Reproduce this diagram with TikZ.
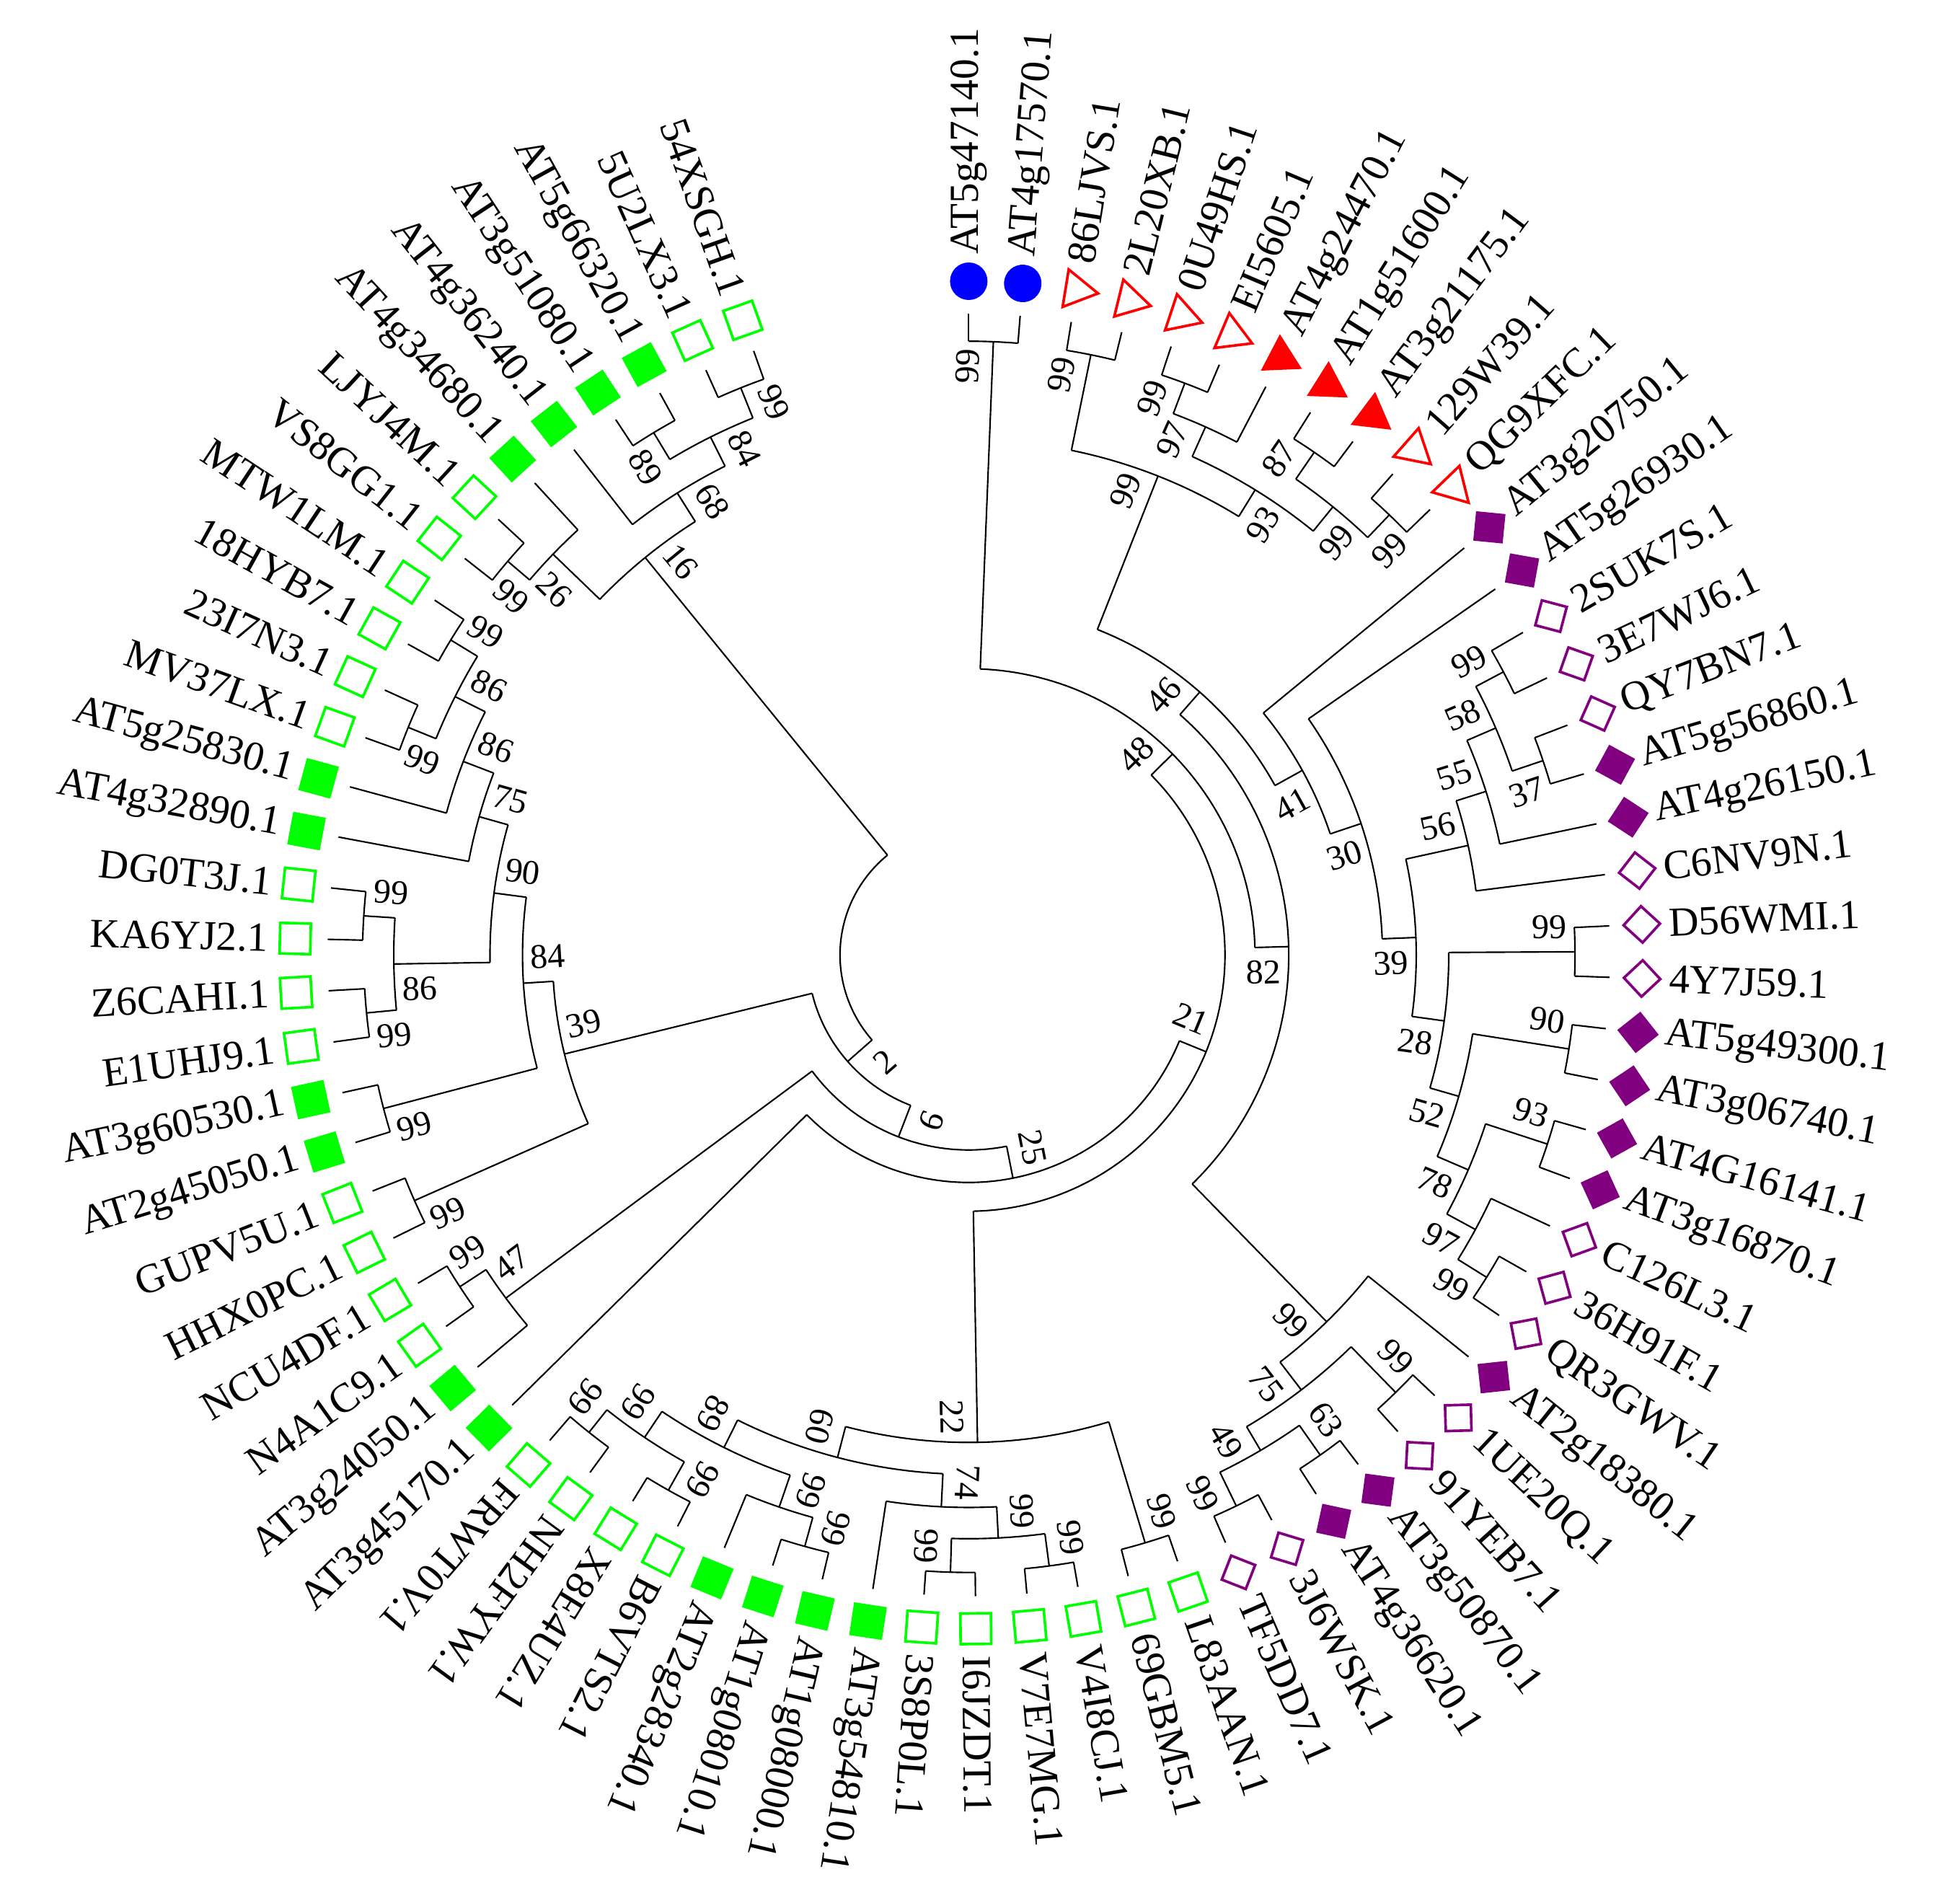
\documentclass[tikz,border=0pt]{standalone}
\usepackage{fontspec}
\setmainfont{Liberation Serif}
\usetikzlibrary{shapes.geometric}

\definecolor{mgreen}{RGB}{0,255,0}
\definecolor{mpurple}{RGB}{128,0,128}
\definecolor{mred}{RGB}{255,0,0}
\definecolor{mblue}{RGB}{0,0,255}

\tikzset{
  branch/.style={line width=0.35pt, black},
  bslabel/.style={font=\fontsize{7.9}{8}\selectfont, inner sep=0pt},
  tiplabel/.style={font=\fontsize{9.4}{10}\selectfont, inner sep=0pt},
  bcirc/.style={circle, fill=mblue, minimum size=3.0mm, inner sep=0pt},
  osq/.style={rectangle, draw=mgreen, line width=0.6pt, minimum size=2.45mm, inner sep=0pt},
  fsq/.style={rectangle, fill=mgreen, minimum size=2.65mm, inner sep=0pt},
  odia/.style={diamond, draw=mpurple, line width=0.6pt, minimum size=3.0mm, inner sep=0pt},
  fdia/.style={diamond, fill=mpurple, minimum size=3.4mm, inner sep=0pt},
  otri/.style={regular polygon, regular polygon sides=3, shape border rotate=180,
    draw=mred, line width=0.6pt, minimum size=3.5mm, inner sep=0pt},
  ftri/.style={regular polygon, regular polygon sides=3, shape border rotate=180,
    fill=mred, minimum size=3.8mm, inner sep=0pt}
}

% leaf: index, name, marker
\newcommand{\tip}[3]{%
  \pgfmathsetmacro\angT{90-4.6*#1}%
  \expandafter\xdef\csname A@L#1\endcsname{\angT}%
  \expandafter\xdef\csname R@L#1\endcsname{5.13}%
  \expandafter\xdef\csname B@L#1\endcsname{}%
  \coordinate (L#1) at (\angT:5.13);
  \node[#3, rotate=\angT] (m#1) at (\angT:5.39) {};
  \ifnum#1<49
    \node[tiplabel, rotate=\angT, anchor=west] (t#1) at (\angT:5.60) {#2};
  \else
    \node[tiplabel, rotate=\angT+180, anchor=east] (t#1) at (\angT:5.60) {#2};
  \fi
}

% support value of a child, put on the side away from its sibling
\newcommand{\support}[3]{%
  \edef\bsv{\csname B@#1\endcsname}%
  \ifx\bsv\empty\else
    \edef\radC{\csname R@#1\endcsname}%
    \pgfmathsetmacro\sideC{#2>#3 ? 1 : -1}%
    \pgfmathsetmacro\angL{#2+\sideC*11.46/(\radC-0.2)}%
    \pgfmathsetmacro\radL{\radC-0.2}%
    \pgfmathsetmacro\rotL{#2>-133 ? #2 : #2+180}%
    \node[bslabel, rotate=\rotL] (b#1) at (\angL:\radL) {\bsv};
  \fi
}

% clade: name, radius, child a, child b, support
\newcommand{\clade}[5]{%
  \edef\angA{\csname A@#3\endcsname}\edef\angB{\csname A@#4\endcsname}%
  \pgfmathsetmacro\angM{(\angA+\angB)/2}%
  \expandafter\xdef\csname A@#1\endcsname{\angM}%
  \expandafter\xdef\csname R@#1\endcsname{#2}%
  \expandafter\xdef\csname B@#1\endcsname{#5}%
  \coordinate (#1) at (\angM:#2);
  \draw[branch] (\angA:#2) arc[start angle=\angA, end angle=\angB, radius=#2 cm];
  \draw[branch] (\angA:#2) -- (#3);
  \draw[branch] (\angB:#2) -- (#4);
  \support{#3}{\angA}{\angB}
  \support{#4}{\angB}{\angA}
}

\begin{document}
\begin{tikzpicture}
\useasboundingbox (-7.75,-7.58) rectangle (7.93,7.64);

% leaves
\tip{0}{AT5g47140.1}{bcirc}
\tip{1}{AT4g17570.1}{bcirc}
\tip{2}{86LJVS.1}{otri}
\tip{3}{2L20XB.1}{otri}
\tip{4}{0U49HS.1}{otri}
\tip{5}{EI5605.1}{otri}
\tip{6}{AT4g24470.1}{ftri}
\tip{7}{AT1g51600.1}{ftri}
\tip{8}{AT3g21175.1}{ftri}
\tip{9}{129W39.1}{otri}
\tip{10}{QG9XFC.1}{otri}
\tip{11}{AT3g20750.1}{fdia}
\tip{12}{AT5g26930.1}{fdia}
\tip{13}{2SUK7S.1}{odia}
\tip{14}{3E7WJ6.1}{odia}
\tip{15}{QY7BN7.1}{odia}
\tip{16}{AT5g56860.1}{fdia}
\tip{17}{AT4g26150.1}{fdia}
\tip{18}{C6NV9N.1}{odia}
\tip{19}{D56WMI.1}{odia}
\tip{20}{4Y7J59.1}{odia}
\tip{21}{AT5g49300.1}{fdia}
\tip{22}{AT3g06740.1}{fdia}
\tip{23}{AT4G16141.1}{fdia}
\tip{24}{AT3g16870.1}{fdia}
\tip{25}{C126L3.1}{odia}
\tip{26}{36H91F.1}{odia}
\tip{27}{QR3GWV.1}{odia}
\tip{28}{AT2g18380.1}{fdia}
\tip{29}{1UE20Q.1}{odia}
\tip{30}{91YEB7.1}{odia}
\tip{31}{AT3g50870.1}{fdia}
\tip{32}{AT4g36620.1}{fdia}
\tip{33}{3J6WSK.1}{odia}
\tip{34}{TF5DD7.1}{odia}
\tip{35}{L83AAN.1}{osq}
\tip{36}{69GBM5.1}{osq}
\tip{37}{V4I8CJ.1}{osq}
\tip{38}{V7E7MG.1}{osq}
\tip{39}{I6JZDT.1}{osq}
\tip{40}{3S8P0L.1}{osq}
\tip{41}{AT3g54810.1}{fsq}
\tip{42}{AT1g08000.1}{fsq}
\tip{43}{AT1g08010.1}{fsq}
\tip{44}{AT2g28340.1}{fsq}
\tip{45}{B6VTS2.1}{osq}
\tip{46}{X8E4UZ.1}{osq}
\tip{47}{NH2FYW.1}{osq}
\tip{48}{FRWT0V.1}{osq}
\tip{49}{AT3g45170.1}{fsq}
\tip{50}{AT3g24050.1}{fsq}
\tip{51}{N4A1C9.1}{osq}
\tip{52}{NCU4DF.1}{osq}
\tip{53}{HHX0PC.1}{osq}
\tip{54}{GUPV5U.1}{osq}
\tip{55}{AT2g45050.1}{fsq}
\tip{56}{AT3g60530.1}{fsq}
\tip{57}{E1UHJ9.1}{osq}
\tip{58}{Z6CAHI.1}{osq}
\tip{59}{KA6YJ2.1}{osq}
\tip{60}{DG0T3J.1}{osq}
\tip{61}{AT4g32890.1}{fsq}
\tip{62}{AT5g25830.1}{fsq}
\tip{63}{MV37LX.1}{osq}
\tip{64}{23I7N3.1}{osq}
\tip{65}{18HYB7.1}{osq}
\tip{66}{MTW1LM.1}{osq}
\tip{67}{VS8GG1.1}{osq}
\tip{68}{LJYJ4M.1}{osq}
\tip{69}{AT4g34680.1}{fsq}
\tip{70}{AT4g36240.1}{fsq}
\tip{71}{AT3g51080.1}{fsq}
\tip{72}{AT5g66320.1}{fsq}
\tip{73}{5U2LX3.1}{osq}
\tip{74}{54XSGH.1}{osq}

% blue and red groups
\clade{Nblue}{4.91}{L0}{L1}{99}
\clade{N99S}{4.90}{L2}{L3}{99}
\clade{N99U}{4.89}{L4}{L5}{99}
\clade{N97}{4.63}{N99U}{L6}{97}
\clade{N87}{4.88}{L7}{L8}{87}
\clade{N99V}{4.87}{L9}{L10}{99}
\clade{N99T}{4.62}{N87}{N99V}{99}
\clade{N93}{4.37}{N97}{N99T}{93}
\clade{N99R}{4.12}{N99S}{N93}{99}
% purple groups
\clade{N99a}{4.84}{L13}{L14}{99}
\clade{N37}{4.85}{L15}{L16}{37}
\clade{N58}{4.59}{N99a}{N37}{58}
\clade{N55}{4.34}{N58}{L17}{55}
\clade{N56}{4.09}{N55}{L18}{56}
\clade{N99b}{4.85}{L19}{L20}{99}
\clade{N90}{4.86}{L21}{L22}{90}
\clade{N93p}{4.87}{L23}{L24}{93}
\clade{N99c}{4.88}{L26}{L27}{99}
\clade{N97p}{4.61}{L25}{N99c}{97}
\clade{N78}{4.35}{N93p}{N97p}{78}
\clade{N52}{4.08}{N90}{N78}{52}
\clade{N28}{3.84}{N99b}{N52}{28}
\clade{N39}{3.58}{N56}{N28}{39}
\clade{N30}{3.31}{L12}{N39}{30}
\clade{N41}{3.05}{L11}{N30}{41}
\clade{N46}{2.80}{N99R}{N41}{46}
\clade{N99e}{4.89}{L29}{L30}{99}
\clade{N63}{4.89}{L31}{L32}{63}
\clade{N99f}{4.90}{L33}{L34}{99}
\clade{N49}{4.60}{N63}{N99f}{49}
\clade{N75}{4.38}{N99e}{N49}{75}
\clade{N99d}{4.10}{L28}{N75}{99}
\clade{N82}{2.56}{N46}{N99d}{82}
\clade{N48}{2.29}{Nblue}{N82}{48}
% green groups, bottom
\clade{N99g}{4.91}{L35}{L36}{99}
\clade{N99j}{4.93}{L37}{L38}{99}
\clade{N99i}{4.94}{L39}{L40}{99}
\clade{N99h}{4.67}{N99j}{N99i}{99}
\clade{N74}{4.42}{N99h}{L41}{74}
\clade{N99l}{4.91}{L42}{L43}{99}
\clade{N99k}{4.67}{N99l}{L44}{99}
\clade{N99n}{4.91}{L45}{L46}{99}
\clade{N99o}{4.88}{L47}{L48}{99}
\clade{N99m}{4.65}{N99n}{N99o}{99}
\clade{N89}{4.40}{N99k}{N99m}{89}
\clade{N60}{4.155}{N74}{N89}{60}
\clade{N22}{3.90}{N99g}{N60}{22}
\clade{N21}{2.05}{N48}{N22}{21}
\clade{N25}{1.82}{N21}{L49}{25}
\clade{N99p}{4.86}{L51}{L52}{99}
\clade{N47}{4.61}{L50}{N99p}{47}
\clade{N9}{1.56}{N25}{N47}{9}
% green groups, left
\clade{N99q}{4.85}{L53}{L54}{99}
\clade{N99r}{4.84}{L55}{L56}{99}
\clade{N99t}{4.84}{L57}{L58}{99}
\clade{N99s}{4.85}{L59}{L60}{99}
\clade{N86a}{4.60}{N99t}{N99s}{86}
\clade{N99u}{4.84}{L63}{L64}{99}
\clade{N99v}{4.85}{L65}{L66}{99}
\clade{N86c}{4.60}{N99u}{N99v}{86}
\clade{N86b}{4.33}{L62}{N86c}{86}
\clade{N75g}{4.07}{L61}{N86b}{75}
\clade{N90g}{3.83}{N86a}{N75g}{90}
\clade{N84}{3.57}{N99r}{N90g}{84}
\clade{N39g}{3.33}{N84}{N99q}{39}
\clade{N2}{1.29}{N9}{N39g}{2}
% green groups, top left
\clade{N99w}{4.85}{L67}{L68}{99}
\clade{N26}{4.62}{N99w}{L69}{26}
\clade{N89g}{4.88}{L71}{L72}{89}
\clade{N99x}{4.89}{L73}{L74}{99}
\clade{N84b}{4.63}{N89g}{N99x}{84}
\clade{N68}{4.37}{L70}{N84b}{68}
\clade{N16}{4.10}{N26}{N68}{16}
\clade{root}{1.03}{N2}{N16}{}
\end{tikzpicture}
\end{document}
